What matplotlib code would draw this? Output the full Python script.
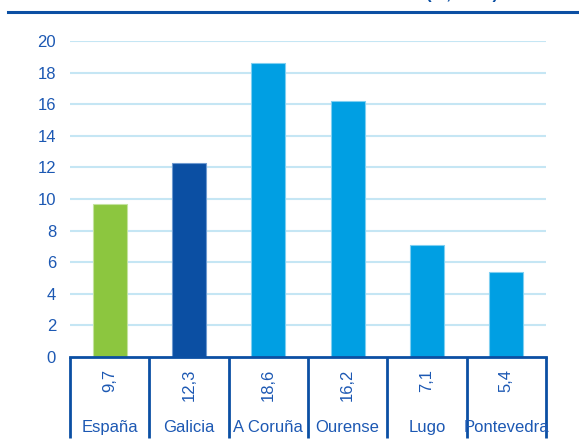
import matplotlib
matplotlib.use("Agg")
import matplotlib.pyplot as plt
from matplotlib.lines import Line2D
import matplotlib.transforms as mtransforms

categories = ["España", "Galicia", "A Coruña", "Ourense", "Lugo", "Pontevedra"]
values = [9.7, 12.3, 18.6, 16.2, 7.1, 5.4]
value_labels = ["9,7", "12,3", "18,6", "16,2", "7,1", "5,4"]
yticks = [0, 2, 4, 6, 8, 10, 12, 14, 16, 18, 20]
title_text = "(%, 2023)"

GREEN = "#8CC63F"
DARK = "#0B4FA3"
LIGHT = "#009FE3"
TEXT = "#1C58B3"
GRID = "#C5E6F4"
colors = [GREEN, DARK, LIGHT, LIGHT, LIGHT, LIGHT]
edges = ["#C4E39F", "#6F9AD0", "#7FCFF1", "#7FCFF1", "#7FCFF1", "#7FCFF1"]

plt.rcParams['font.family'] = ['Liberation Sans', 'DejaVu Sans']

W, H = 579, 448
fig = plt.figure(figsize=(W / 100, H / 100), dpi=100)
ax = fig.add_axes([70 / W, 1 - 357 / H, (546 - 70) / W, (357 - 41) / H])

x = list(range(len(categories)))
ax.bar(x, values, width=0.43, color=colors, edgecolor=edges, linewidth=0.8, zorder=3)

ax.set_xlim(-0.5, len(categories) - 0.5)
ax.set_ylim(0, 20)
ax.set_yticks(yticks)
ax.set_yticklabels([str(t) for t in yticks], fontsize=12, color=TEXT)
ax.tick_params(axis='y', length=0, pad=10)
ax.set_xticks([])
for t in yticks[1:]:
    ax.axhline(t, color=GRID, lw=1.5, zorder=1)

for s in ['top', 'right', 'left']:
    ax.spines[s].set_visible(False)
ax.spines['bottom'].set_color(DARK)
ax.spines['bottom'].set_linewidth(2)
ax.spines['bottom'].set_zorder(4)

# data table beneath the axis
trans = mtransforms.blended_transform_factory(ax.transData, ax.transAxes)
span = 357 - 41
for b in range(len(categories) + 1):
    ax.plot([b - 0.5, b - 0.5], [0, -(438 - 357) / span], transform=trans,
            color=DARK, lw=2, clip_on=False, solid_capstyle='butt')
for i, (lab, cat) in enumerate(zip(value_labels, categories)):
    ax.text(i, -(369 - 357) / span, lab, transform=trans, rotation=90,
            ha='center', va='top', fontsize=12, color=TEXT)
    ax.text(i, -(432 - 357) / span, cat, transform=trans,
            ha='center', va='baseline', fontsize=12, color=TEXT)

# title rule and (clipped, as in the source) title
fig.add_artist(Line2D([8 / W, 1.0], [1 - 12.5 / H, 1 - 12.5 / H], color=DARK, lw=2.2))
fig.text(498 / W, 1 + 1.0 / H, title_text, ha='right', va='baseline',
         fontsize=12, fontweight='bold', color=DARK)

fig.savefig("out.png", dpi=100)
